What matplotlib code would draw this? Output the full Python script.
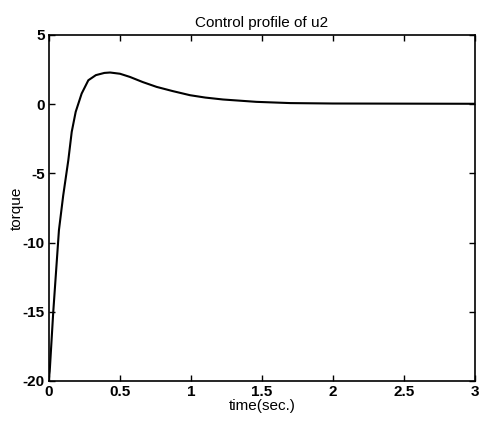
import matplotlib.pyplot as plt

# values
time_s = [0.0, 0.005, 0.03, 0.07, 0.1, 0.136, 0.16, 0.188, 0.23, 0.277,
          0.33, 0.39, 0.43, 0.5, 0.57, 0.66, 0.758, 0.87, 0.993, 1.1,
          1.225, 1.35, 1.46, 1.7, 2.0, 2.5, 3.0]
torque = [-19.8, -19.3, -15.0, -9.1, -6.6, -4.05, -2.0, -0.55, 0.77, 1.73,
          2.1, 2.26, 2.29, 2.2, 1.97, 1.6, 1.25, 0.95, 0.65, 0.48,
          0.34, 0.25, 0.17, 0.08, 0.05, 0.04, 0.03]

xticks = [0, 0.5, 1, 1.5, 2, 2.5, 3]
xtick_labels = ["0", "0.5", "1", "1.5", "2", "2.5", "3"]
yticks = [-20, -15, -10, -5, 0, 5]

plt.rcParams["font.family"] = ["Liberation Sans", "DejaVu Sans"]
plt.rcParams["axes.unicode_minus"] = False

fig = plt.figure(figsize=(4.81, 4.24), dpi=100)
ax = fig.add_axes([49 / 481, 1 - 381 / 424, 426 / 481, 346 / 424])

ax.plot(time_s, torque, color="black", linewidth=1.5)
ax.set_xlim(0, 3)
ax.set_ylim(-20, 5)
ax.set_xticks(xticks)
ax.set_xticklabels(xtick_labels)
ax.set_yticks(yticks)
ax.tick_params(direction="in", top=True, right=True, length=4, width=1,
               labelsize=11, pad=3)
for lbl in ax.get_xticklabels() + ax.get_yticklabels():
    lbl.set_fontweight("bold")
for s in ax.spines.values():
    s.set_linewidth(1.2)

ax.set_title("Control profile of u2", fontsize=11, pad=6)
ax.set_xlabel("time(sec.)", fontsize=11, labelpad=0)
ax.set_ylabel("torque", fontsize=11, labelpad=-1)

fig.savefig("out.png", dpi=100)
